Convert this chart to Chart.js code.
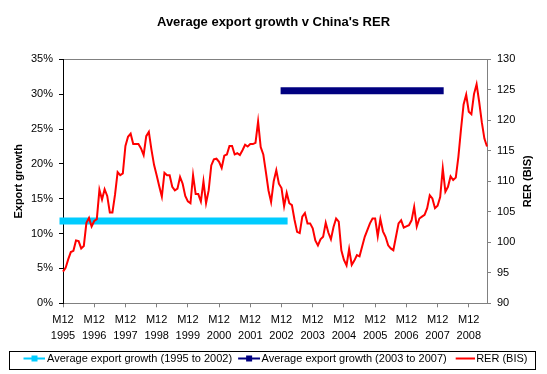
<!DOCTYPE html>
<html>
<head>
<meta charset="utf-8">
<title>Average export growth v China's RER</title>
<script src="https://cdn.jsdelivr.net/npm/chart.js@4"></script>
<style>
  body { margin: 0; background: #fff; }
</style>
</head>
<body>
<canvas id="myChart" width="547" height="374"></canvas>
<script>
// RER (BIS), monthly from M12 1995
const rer = [
  95.2, 95.8, 97.2, 98.4, 98.6, 100.3, 100.2, 99.0, 99.4, 103.2, 104.0, 102.6,
  103.5, 103.8, 108.6, 107.0, 108.7, 107.6, 104.9, 104.9, 107.8, 111.5, 111.0, 111.3,
  115.8, 117.3, 117.8, 116.1, 116.1, 116.1, 115.4, 114.3, 117.4, 118.1, 115.2, 112.7,
  111.0, 109.2, 107.5, 111.4, 111.0, 111.0, 109.1, 108.5, 108.8, 110.7, 109.6, 107.6,
  106.7, 106.4, 111.0, 107.9, 107.9, 106.7, 110.0, 106.4, 108.5, 112.6, 113.6, 113.7,
  113.2, 112.2, 114.2, 114.4, 115.8, 115.8, 114.4, 114.6, 114.3, 115.1, 116.0, 115.7,
  116.1, 116.1, 116.3, 119.8, 115.6, 114.4, 111.5, 108.5, 106.6, 110.0, 111.8, 109.6,
  108.9, 105.9, 108.1, 106.4, 106.1, 103.7, 101.7, 101.5, 104.2, 104.8, 103.1, 103.1,
  102.3, 100.3, 99.5, 100.5, 100.9, 103.2, 101.6, 100.5, 102.5, 103.9, 103.4, 98.7,
  97.1, 96.2, 98.9, 96.3, 97.0, 97.9, 97.7, 99.3, 100.9, 102.0, 103.1, 103.9,
  103.9, 101.0, 103.8, 101.8, 100.9, 99.5, 99.0, 98.7, 100.9, 103.1, 103.6, 102.4,
  102.6, 102.8, 103.6, 105.8, 102.6, 103.9, 104.2, 104.5, 105.6, 107.7, 107.2, 105.6,
  106.0, 107.4, 112.1, 108.3, 109.1, 110.8, 110.2, 110.6, 114.0, 118.5, 122.6, 124.2,
  121.4, 121.0, 124.3, 125.9, 123.0, 119.7, 117.0, 115.7
];

// month labels "M12 1995", "M1 1996", ...
const months = [];
for (let i = 0; i < rer.length; i++) {
  let m = (11 + i) % 12 + 1;
  let y = 1995 + Math.floor((11 + i) / 12);
  months.push('M' + m + ' ' + y);
}

// average export growth (%) and the months each average is drawn across
const earlyAvg = 11.8;
const earlySpan = ['M12 1995', 'M1 2003'];
const lateAvg = 30.5;
const lateSpan = ['M1 2003', 'M1 2008'];

const growthTicks = [0, 5, 10, 15, 20, 25, 30, 35];
const rerTicks = [90, 95, 100, 105, 110, 115, 120, 125, 130];

Chart.defaults.font.family = '"Liberation Sans", Arial, sans-serif';
Chart.defaults.font.size = 11;
Chart.defaults.color = '#000';

function legendIcon(color, marker, len) {
  let c = document.createElement('canvas');
  c.width = 30; c.height = 8;
  let g = c.getContext('2d');
  g.fillStyle = color;
  g.fillRect(30 - len, 3, len, 2);
  if (marker) g.fillRect(30 - len / 2 - 3, 1, 6, 6);
  return c;
}
const legendIcons = [
  legendIcon('#00ccff', true, 22),
  legendIcon('#000080', true, 22),
  legendIcon('#ff0000', false, 19)
];

const extras = {
  id: 'extras',
  afterDraw(chart) {
    const ctx = chart.ctx;
    ctx.save();
    ctx.strokeStyle = '#000';
    ctx.lineWidth = 1;
    ctx.strokeRect(9.5, 351.5, 526, 18);
    const area = chart.chartArea;
    ctx.translate(528, (area.top + area.bottom) / 2);
    ctx.rotate(-Math.PI / 2);
    ctx.font = 'bold 11px "Liberation Sans", Arial, sans-serif';
    ctx.fillStyle = '#000';
    ctx.textAlign = 'center';
    ctx.textBaseline = 'middle';
    ctx.fillText('RER (BIS)', 0, 0);
    ctx.restore();
  }
};

let ctx = document.getElementById('myChart').getContext('2d');
let myChart = new Chart(ctx, {
  type: 'line',
  data: {
    labels: months,
    datasets: [{
        label: 'Average export growth (1995 to 2002)',
        data: earlySpan.map(m => ({x: m, y: earlyAvg})),
        borderColor: '#00ccff',
        backgroundColor: '#00ccff',
        borderWidth: 7,
        borderCapStyle: 'square',
        pointRadius: 0,
        yAxisID: 'y',
        clip: 8,
        order: 1
      },
      {
        label: 'Average export growth (2003 to 2007)',
        data: lateSpan.map(m => ({x: m, y: lateAvg})),
        borderColor: '#000080',
        backgroundColor: '#000080',
        borderWidth: 7,
        borderCapStyle: 'square',
        pointRadius: 0,
        yAxisID: 'y',
        clip: 8,
        order: 2
      },
      {
        label: 'RER (BIS)',
        data: rer,
        borderColor: '#ff0000',
        backgroundColor: '#ff0000',
        borderWidth: 2,
        pointRadius: 0,
        tension: 0,
        yAxisID: 'y1',
        order: 0
      }]
  },
  options: {
    responsive: false,
    animation: false,
    layout: { padding: 0 },
    plugins: {
      title: {
        display: true,
        text: "Average export growth v China's RER",
        font: { size: 13, weight: 'bold' },
        color: '#000',
        padding: { top: 15, bottom: 28.7 }
      },
      legend: {
        position: 'bottom',
        labels: {
          usePointStyle: true,
          pointStyleWidth: 22,
          boxHeight: 11,
          padding: 2,
          color: '#000',
          font: { size: 11 },
          sort: (a, b) => a.datasetIndex - b.datasetIndex,
          generateLabels: function(chart) {
            let items = Chart.defaults.plugins.legend.labels.generateLabels(chart);
            items.forEach(it => { it.pointStyle = legendIcons[it.datasetIndex]; });
            return items;
          }
        }
      },
      tooltip: { enabled: false }
    },
    scales: {
      x: {
        grid: {
          drawOnChartArea: false,
          tickLength: 4,
          tickColor: c => (c.index % 12 === 0 ? '#808080' : 'rgba(0,0,0,0)')
        },
        border: { color: '#808080' },
        ticks: {
          autoSkip: false,
          maxRotation: 0,
          minRotation: 0,
          padding: 5,
          font: { size: 11, lineHeight: 1.45 },
          callback: function(value, index) {
            if (index % 12 !== 0) return '';
            return months[index].split(' ');
          }
        },
        afterFit: function(scale) { scale.height = 47.7; }
      },
      y: {
        position: 'left',
        min: 0,
        max: 35,
        afterBuildTicks: function(scale) { scale.ticks = growthTicks.map(v => ({value: v})); },
        grid: {
          tickLength: 4,
          color: c => (c.tick && c.tick.value === 35 ? '#808080' : 'rgba(0,0,0,0)'),
          tickColor: '#000'
        },
        border: { color: '#000' },
        ticks: {
          padding: 6,
          callback: v => v + '%'
        },
        title: {
          display: true,
          text: 'Export growth',
          font: { size: 11, weight: 'bold' },
          padding: { top: 12, bottom: 0 }
        },
        afterFit: function(scale) { scale.width = 63; }
      },
      y1: {
        position: 'right',
        min: 90,
        max: 130,
        afterBuildTicks: function(scale) { scale.ticks = rerTicks.map(v => ({value: v})); },
        grid: {
          drawOnChartArea: false,
          tickLength: 4,
          tickColor: '#808080'
        },
        border: { color: '#808080' },
        ticks: { padding: 6 },
        afterFit: function(scale) { scale.width = 60; }
      }
    }
  },
  plugins: [extras]
});
</script>
</body>
</html>
